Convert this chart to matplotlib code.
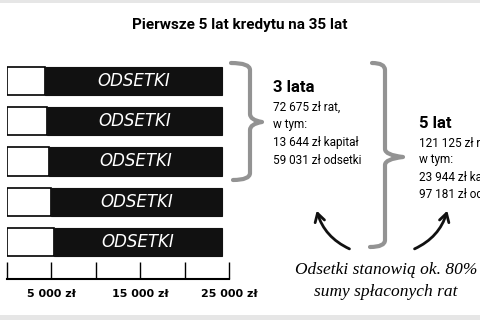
import matplotlib
matplotlib.use("Agg")
import matplotlib.pyplot as plt
from matplotlib.path import Path
from matplotlib.patches import PathPatch, FancyArrowPatch, Rectangle

years = ["rok 1", "rok 2", "rok 3", "rok 4", "rok 5"]
capital = [4330, 4550, 4764, 4991, 5309]
yearly_payment = 24225
interest = [yearly_payment - c for c in capital]
tick_values = [0, 5000, 10000, 15000, 20000, 25000]
tick_labels = ["", "5 000 zł", "", "15 000 zł", "", "25 000 zł"]
bar_label = "ODSETKI"

title = "Pierwsze 5 lat kredytu na 35 lat"
block_3 = ["3 lata", "72 675 zł rat,", "w tym:", "13 644 zł kapitał", "59 031 zł odsetki"]
block_5 = ["5 lat", "121 125 zł rat,", "w tym:", "23 944 zł kapitał", "97 181 zł odsetki"]
caption = ["Odsetki stanowią ok. 80%", "sumy spłaconych rat"]

W, H = 480, 320
fig = plt.figure(figsize=(W / 100, H / 100), dpi=100)
fig.patch.set_facecolor("white")

# bar axes placed in pixel space
left, right, top, bottom = 7, 229, 60, 279
ax = fig.add_axes([left / W, 1 - bottom / H, (right - left) / W, (bottom - top) / H])
ypos = list(range(len(years)))
ax.barh(ypos, capital, height=0.7, color="white", edgecolor="black", linewidth=1.2, zorder=2)
ax.barh(ypos, interest, left=capital, height=0.7, color="#111111", edgecolor="#111111",
        linewidth=0.8, zorder=3)
for y, c, i in zip(ypos, capital, interest):
    ax.text(c + i / 2, y, bar_label, color="white", fontsize=12, fontstyle="italic",
            ha="center", va="center", zorder=4)
ax.set_xlim(0, 25000)
ax.set_ylim(4.92, -0.52)
ax.set_facecolor("none")
for s in ["top", "left", "right"]:
    ax.spines[s].set_visible(False)
ax.spines["bottom"].set_linewidth(1.5)
ax.set_yticks([])
ax.set_xticks(tick_values)
ax.set_xticklabels(tick_labels, fontsize=8, fontweight="bold")
ax.tick_params(axis="x", direction="in", length=12.5, width=1.0, pad=7)

# overlay in pixel coordinates for braces, arrows and texts
ov = fig.add_axes([0, 0, 1, 1])
ov.set_xlim(0, W)
ov.set_ylim(H, 0)
ov.axis("off")
ov.patch.set_alpha(0)

ov.add_patch(Rectangle((0, 0), W, 3, color="#e6e6e6", lw=0))
ov.add_patch(Rectangle((0, 315), W, 5, color="#e6e6e6", lw=0))


def brace(x0, x, xt, y0, ym, y1, x1):
    verts = [(x0, y0), (x, y0), (x, y0 + 7),
             (x, ym - 8), (x, ym - 2), (xt, ym),
             (x, ym + 2), (x, ym + 8),
             (x, y1 - 7), (x, y1), (x1, y1)]
    codes = [Path.MOVETO, Path.CURVE3, Path.CURVE3,
             Path.LINETO, Path.CURVE3, Path.CURVE3,
             Path.CURVE3, Path.CURVE3,
             Path.LINETO, Path.CURVE3, Path.CURVE3]
    ov.add_patch(PathPatch(Path(verts, codes), fill=False, edgecolor="#939393",
                           lw=3, capstyle="round", joinstyle="round"))


brace(231, 250, 262, 63, 122, 180, 233)
brace(372, 385, 403, 63, 157, 247, 370)

ov.add_patch(FancyArrowPatch((352, 250), (316, 208), connectionstyle="arc3,rad=-0.25",
                             arrowstyle="->,head_length=6,head_width=3.5", lw=2, color="#111111"))
ov.add_patch(FancyArrowPatch((412, 250), (448, 208), connectionstyle="arc3,rad=0.25",
                             arrowstyle="->,head_length=6,head_width=3.5", lw=2, color="#111111"))

ov.text(240, 25, title, fontsize=11, fontweight="bold", ha="center", va="center",
        family=["Roboto", "DejaVu Sans"])

ov.text(273, 88, block_3[0], fontsize=12, fontweight="bold", ha="left", va="center",
        family=["Roboto", "DejaVu Sans"])
for k, line in enumerate(block_3[1:]):
    ov.text(273, 107 + 17.7 * k, line, fontsize=8.5, ha="left", va="center",
            family=["Roboto", "DejaVu Sans"])

ov.text(419, 123, block_5[0], fontsize=12, fontweight="bold", ha="left", va="center",
        family=["Roboto", "DejaVu Sans"])
for k, line in enumerate(block_5[1:]):
    ov.text(419, 143 + 17 * k, line, fontsize=8.5, ha="left", va="center",
            family=["Roboto", "DejaVu Sans"])

ov.text(386, 270, caption[0], fontsize=12.5, fontstyle="italic", ha="center", va="center",
        family=["Liberation Serif", "DejaVu Serif"])
ov.text(386, 292, caption[1], fontsize=12.5, fontstyle="italic", ha="center", va="center",
        family=["Liberation Serif", "DejaVu Serif"])

fig.savefig("out.png", dpi=100)
